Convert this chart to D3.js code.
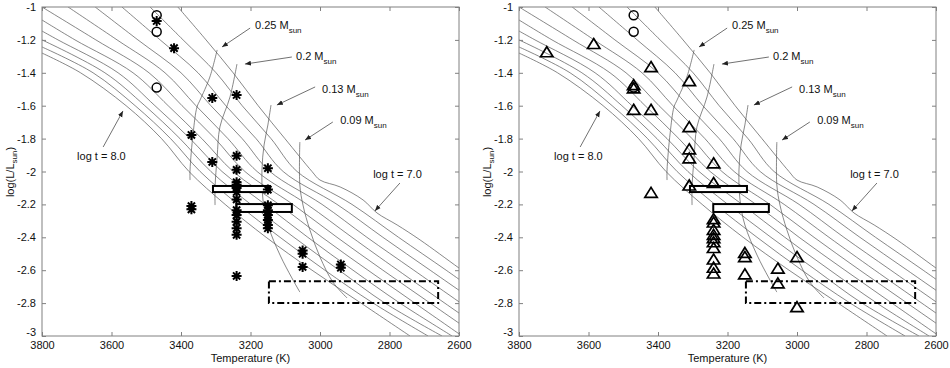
<!DOCTYPE html>
<html>
<head>
<meta charset="utf-8">
<script src="https://cdn.jsdelivr.net/npm/d3@7"></script>
<style>
body { margin: 0; background: #fff; }
text { font-family: "Liberation Sans", Arial, sans-serif; fill: #111; }
</style>
</head>
<body>
<svg id="chart" width="950" height="368"></svg>
<script>
// axes
const xTicks = [3800, 3600, 3400, 3200, 3000, 2800, 2600];
const yTicks = [-3, -2.8, -2.6, -2.4, -2.2, -2, -1.8, -1.6, -1.4, -1.2, -1];
const yTickLabels = ['-3', '-2.8', '-2.6', '-2.4', '-2.2', '-2', '-1.8', '-1.6', '-1.4', '-1.2', '-1'];

// isochrones, [Teff, log L], log t = 7.0 ... 8.0
const iso70 = [[3409,-1.0],[3328,-1.2],[3250,-1.4],[3178,-1.6],[3101,-1.8],[3023,-2.0],[3000,-2.052],[2942,-2.094],[2876,-2.173],[2836,-2.252],[2778,-2.325],[2712,-2.416],[2600,-2.587],[2540,-2.678]];
const iso71 = [[3489,-1.0],[3394,-1.2],[3299,-1.4],[3224,-1.6],[3141,-1.8],[3066,-2.0],[2908,-2.2],[2774,-2.4],[2637,-2.6],[2540,-2.745]];
const iso72 = [[3570,-1.0],[3460,-1.2],[3351,-1.4],[3271,-1.6],[3184,-1.8],[3106,-2.0],[2951,-2.2],[2819,-2.4],[2683,-2.6],[2540,-2.81]];
const iso73 = [[3647,-1.0],[3524,-1.2],[3400,-1.4],[3314,-1.6],[3224,-1.8],[3144,-2.0],[2994,-2.2],[2865,-2.4],[2730,-2.6],[2540,-2.881]];
const iso74 = [[3725,-1.0],[3584,-1.2],[3446,-1.4],[3357,-1.6],[3265,-1.8],[3181,-2.0],[3037,-2.2],[2908,-2.4],[2776,-2.6],[2540,-2.949]];
const iso75 = [[3800,-1.0],[3645,-1.2],[3492,-1.4],[3397,-1.6],[3302,-1.8],[3216,-2.0],[3078,-2.2],[2951,-2.4],[2819,-2.6],[2683,-2.8],[2540,-3.01]];
const iso76 = [[3800,-1.079],[3705,-1.2],[3538,-1.4],[3437,-1.6],[3340,-1.8],[3250,-2.0],[3118,-2.2],[2994,-2.4],[2862,-2.6],[2727,-2.8],[2591,-3.0]];
const iso77 = [[3800,-1.146],[3754,-1.2],[3581,-1.4],[3475,-1.6],[3374,-1.8],[3282,-2.0],[3158,-2.2],[3035,-2.4],[2905,-2.6],[2770,-2.8],[2620,-3.0]];
const iso78 = [[3800,-1.2],[3619,-1.4],[3504,-1.6],[3403,-1.8],[3314,-2.0],[3199,-2.2],[3075,-2.4],[2945,-2.6],[2813,-2.8],[2649,-3.0]];
const iso79 = [[3800,-1.243],[3653,-1.4],[3532,-1.6],[3430,-1.8],[3345,-2.0],[3236,-2.2],[3115,-2.4],[2986,-2.6],[2847,-2.8],[2689,-3.0]];
const iso80 = [[3800,-1.28],[3689,-1.4],[3558,-1.6],[3456,-1.8],[3377,-2.0],[3273,-2.2],[3155,-2.4],[3023,-2.6],[2882,-2.8],[2741,-3.0]];
const isochrones = [iso70, iso71, iso72, iso73, iso74, iso75, iso76, iso77, iso78, iso79, iso80];

// mass tracks
const track025 = [[3296,-1.261],[3317,-1.426],[3345,-1.565],[3354,-1.608],[3365,-1.766],[3374,-1.991],[3374,-2.052]];
const track020 = [[3239,-1.347],[3259,-1.547],[3288,-1.729],[3296,-1.912],[3302,-2.094],[3302,-2.204]];
const track013 = [[3141,-1.596],[3150,-1.717],[3161,-1.839],[3167,-1.991],[3164,-2.173],[3150,-2.325],[3115,-2.508],[3081,-2.647],[3058,-2.733]];
const track009 = [[3058,-1.821],[3058,-2.082],[3049,-2.204],[3029,-2.356],[3000,-2.52],[2963,-2.672],[2922,-2.769]];
const tracks = [track025, track020, track013, track009];

// boxes: [T1, T2], [L1, L2]
const box1T = [3308, 3144], box1L = [-2.125, -2.088];
const box2T = [3241, 3081], box2L = [-2.246, -2.198];
const box3T = [3147, 2660], box3L = [-2.8, -2.667];

// observed points
const circleT = [3470, 3470, 3470];
const circleL = [-1.05, -1.15, -1.49];
const starPts = [[3470,-1.085],[3420,-1.25],[3310,-1.553],[3240,-1.535],[3370,-1.778],[3310,-1.942],[3240,-1.905],[3240,-1.99],[3150,-1.98],
  [3240,-2.065],[3240,-2.08],[3240,-2.10],[3240,-2.125],[3240,-2.17],[3240,-2.235],[3240,-2.265],[3240,-2.305],[3240,-2.345],[3240,-2.385],
  [3150,-2.11],[3150,-2.205],[3150,-2.235],[3150,-2.265],[3150,-2.295],[3150,-2.325],[3150,-2.345],
  [3370,-2.21],[3370,-2.23],[3240,-2.635],[3050,-2.48],[3050,-2.50],[3050,-2.58],[2940,-2.565],[2940,-2.585]];
const trianglePts = [[3720,-1.275],[3585,-1.225],[3420,-1.365],[3470,-1.475],[3470,-1.495],[3470,-1.625],[3420,-1.625],
  [3310,-1.45],[3310,-1.73],[3310,-1.865],[3310,-1.92],[3310,-2.085],[3240,-1.95],[3240,-2.07],[3420,-2.13],
  [3240,-2.29],[3240,-2.31],[3240,-2.355],[3240,-2.385],[3240,-2.405],[3240,-2.43],[3240,-2.465],[3240,-2.535],[3240,-2.585],[3240,-2.62],
  [3150,-2.495],[3150,-2.52],[3150,-2.625],[3055,-2.59],[3055,-2.68],[3000,-2.52],[3000,-2.825]];

// annotations: text anchor [T, L], arrow from [T, L] to [T, L]
const massLabels = ['0.25', '0.2', '0.13', '0.09'];
const massTextPos = [[3187,-1.134],[3069,-1.322],[2994,-1.523],[2942,-1.711]];
const massArrowFrom = [[3201,-1.128],[3081,-1.304],[3014,-1.486],[2963,-1.699]];
const massArrowTo = [[3282,-1.243],[3216,-1.347],[3124,-1.596],[3043,-1.809]];
const ageLabels = ['log t = 8.0', 'log t = 7.0'];
const ageTextPos = [[3699,-1.93],[2847,-2.04]];
const ageArrowFrom = [[3624,-1.851],[2770,-2.07]];
const ageArrowTo = [[3567,-1.632],[2842,-2.24]];

const svg = d3.select('#chart');
const defs = svg.append('defs');
defs.append('marker')
    .attr('id', 'arrow')
    .attr('viewBox', '0 0 10 10')
    .attr('refX', 10).attr('refY', 5)
    .attr('markerWidth', 6).attr('markerHeight', 6)
    .attr('markerUnits', 'userSpaceOnUse')
    .attr('orient', 'auto')
    .append('path')
    .attr('d', 'M0,1L10,5L0,9Z')
    .attr('fill', '#222');

const starPath = 'M-5,0H5M0,-5V5M-3.6,-3.6L3.6,3.6M-3.6,3.6L3.6,-3.6';
const triPath = 'M0,-5.5L6.2,4.5L-6.2,4.5Z';

function drawPanel(id, left, right, kind) {
    const x = d3.scaleLinear().domain([3800, 2600]).range([left, right]);
    const y = d3.scaleLinear().domain([-3, -1]).range([336, 7]);
    const g = svg.append('g');

    defs.append('clipPath').attr('id', 'clip' + id)
        .append('rect')
        .attr('x', left).attr('y', 7)
        .attr('width', right - left).attr('height', 329);

    const line = d3.line().x(d => x(d[0])).y(d => y(d[1])).curve(d3.curveCatmullRom);
    const plot = g.append('g').attr('clip-path', 'url(#clip' + id + ')');

    plot.selectAll('path.iso')
        .data(isochrones)
        .enter()
        .append('path')
        .attr('class', 'iso')
        .attr('d', line)
        .attr('fill', 'none')
        .attr('stroke', '#555')
        .attr('stroke-width', 0.7);

    plot.selectAll('path.track')
        .data(tracks)
        .enter()
        .append('path')
        .attr('class', 'track')
        .attr('d', line)
        .attr('fill', 'none')
        .attr('stroke', '#555')
        .attr('stroke-width', 0.7);

    // solid boxes
    [[box1T, box1L], [box2T, box2L]].forEach(b => {
        g.append('rect')
            .attr('x', x(b[0][0])).attr('y', y(b[1][1]))
            .attr('width', x(b[0][1]) - x(b[0][0]))
            .attr('height', y(b[1][0]) - y(b[1][1]))
            .attr('fill', '#fff')
            .attr('stroke', '#000')
            .attr('stroke-width', 2);
    });
    g.append('rect')
        .attr('x', x(box3T[0])).attr('y', y(box3L[1]))
        .attr('width', x(box3T[1]) - x(box3T[0]))
        .attr('height', y(box3L[0]) - y(box3L[1]))
        .attr('fill', 'none')
        .attr('stroke', '#000')
        .attr('stroke-width', 2)
        .attr('stroke-dasharray', '7,3,2,3');

    // markers
    if (kind === 'star') {
        g.selectAll('path.star')
            .data(starPts)
            .enter()
            .append('path')
            .attr('class', 'star')
            .attr('transform', d => `translate(${x(d[0])},${y(d[1])})`)
            .attr('d', starPath)
            .attr('stroke', '#000')
            .attr('stroke-width', 2);
    } else {
        g.selectAll('path.tri')
            .data(trianglePts)
            .enter()
            .append('path')
            .attr('class', 'tri')
            .attr('transform', d => `translate(${x(d[0])},${y(d[1])})`)
            .attr('d', triPath)
            .attr('fill', 'none')
            .attr('stroke', '#000')
            .attr('stroke-width', 1.7);
    }
    g.selectAll('circle.obs')
        .data(circleT)
        .enter()
        .append('circle')
        .attr('class', 'obs')
        .attr('cx', d => x(d))
        .attr('cy', (d, i) => y(circleL[i]))
        .attr('r', 4.5)
        .attr('fill', 'none')
        .attr('stroke', '#000')
        .attr('stroke-width', 1.5);

    // annotations
    massLabels.forEach((m, i) => {
        g.append('line')
            .attr('x1', x(massArrowFrom[i][0])).attr('y1', y(massArrowFrom[i][1]))
            .attr('x2', x(massArrowTo[i][0])).attr('y2', y(massArrowTo[i][1]))
            .attr('stroke', '#333').attr('stroke-width', 0.7)
            .attr('marker-end', 'url(#arrow)');
        const t = g.append('text')
            .attr('x', x(massTextPos[i][0])).attr('y', y(massTextPos[i][1]))
            .attr('font-size', 11);
        t.append('tspan').text(m + ' M');
        t.append('tspan').attr('font-size', 8).attr('dy', 4).text('sun');
    });
    ageLabels.forEach((a, i) => {
        g.append('line')
            .attr('x1', x(ageArrowFrom[i][0])).attr('y1', y(ageArrowFrom[i][1]))
            .attr('x2', x(ageArrowTo[i][0])).attr('y2', y(ageArrowTo[i][1]))
            .attr('stroke', '#333').attr('stroke-width', 0.7)
            .attr('marker-end', 'url(#arrow)');
        g.append('text')
            .attr('x', x(ageTextPos[i][0])).attr('y', y(ageTextPos[i][1]))
            .attr('font-size', 11)
            .text(a);
    });

    // axes
    const axColor = '#808080';
    const bottom = g.append('g').attr('transform', 'translate(0,336)')
        .call(d3.axisBottom(x).tickValues(xTicks).tickSize(-4).tickPadding(5).tickFormat(d => String(d)));
    const top = g.append('g').attr('transform', 'translate(0,7)')
        .call(d3.axisTop(x).tickValues(xTicks).tickSize(-4).tickFormat(''));
    const leftAx = g.append('g').attr('transform', `translate(${left},0)`)
        .call(d3.axisLeft(y).tickValues(yTicks).tickSize(-4).tickPadding(6).tickFormat((d, i) => yTickLabels[i]));
    const rightAx = g.append('g').attr('transform', `translate(${right},0)`)
        .call(d3.axisRight(y).tickValues(yTicks).tickSize(-4).tickFormat(''));
    [bottom, top, leftAx, rightAx].forEach(a => {
        a.select('.domain').remove();
        a.selectAll('line').attr('stroke', axColor);
        a.selectAll('text').attr('font-size', 11).attr('fill', '#111')
            .attr('font-family', '"Liberation Sans", Arial, sans-serif');
    });
    // the lowest y label sits a little higher, clear of the 3800 label
    leftAx.selectAll('.tick text').filter(d => d === -3).attr('dy', '-0.05em');
    g.append('rect')
        .attr('x', left).attr('y', 7)
        .attr('width', right - left).attr('height', 329)
        .attr('fill', 'none')
        .attr('stroke', axColor)
        .attr('stroke-width', 1);

    // labels
    g.append('text')
        .attr('x', (left + right) / 2).attr('y', 362)
        .attr('text-anchor', 'middle')
        .attr('font-size', 11)
        .text('Temperature (K)');
    const yl = g.append('text')
        .attr('transform', `translate(${left - 28},172) rotate(-90)`)
        .attr('text-anchor', 'middle')
        .attr('font-size', 11);
    yl.append('tspan').text('log(L/L');
    yl.append('tspan').attr('font-size', 8).attr('dy', 3).text('sun');
    yl.append('tspan').attr('dy', -3).text(')');
}

drawPanel('L', 42, 459, 'star');
drawPanel('R', 519, 936, 'tri');
</script>
</body>
</html>
